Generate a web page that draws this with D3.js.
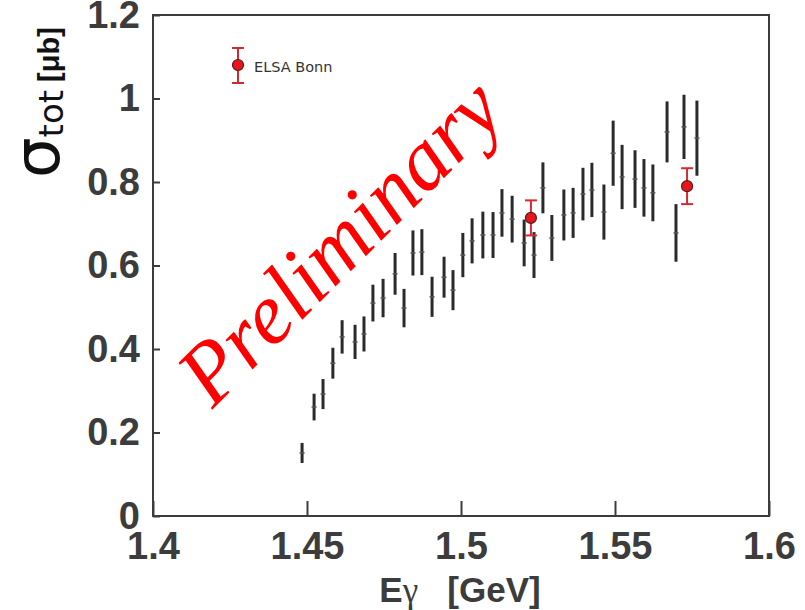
<!DOCTYPE html>
<html>
<head>
<meta charset="utf-8">
<script src="https://cdn.jsdelivr.net/npm/d3@7"></script>
<style>
  html, body { margin: 0; padding: 0; background: #fff; }
  svg { display: block; }
</style>
</head>
<body>
<svg id="chart" width="805" height="610"></svg>
<script>
// ---- data ----
const energies = [1.4484, 1.4523, 1.4552, 1.4584, 1.4614, 1.4656, 1.4685, 1.4714, 1.4747, 1.4786,
                  1.4815, 1.4844, 1.4873, 1.4906, 1.4945, 1.4974, 1.5006, 1.5036, 1.5071, 1.5104,
                  1.5133, 1.5166, 1.5205, 1.5237, 1.5266, 1.5295, 1.5334, 1.5364, 1.5396, 1.5425,
                  1.5464, 1.5494, 1.5523, 1.5565, 1.5594, 1.5623, 1.5669, 1.5698, 1.5724, 1.5766];
const xsec = [0.151, 0.261, 0.292, 0.366, 0.429, 0.417, 0.436, 0.510, 0.522, 0.580,
              0.498, 0.630, 0.632, 0.525, 0.572, 0.541, 0.625, 0.659, 0.673, 0.673,
              0.726, 0.711, 0.654, 0.625, 0.786, 0.666, 0.721, 0.726, 0.771, 0.781,
              0.728, 0.869, 0.812, 0.807, 0.786, 0.774, 0.920, 0.678, 0.932, 0.905];
const xsecErr = [0.024, 0.032, 0.036, 0.037, 0.040, 0.041, 0.042, 0.044, 0.046, 0.050,
                 0.046, 0.054, 0.055, 0.048, 0.049, 0.048, 0.053, 0.054, 0.056, 0.055,
                 0.057, 0.056, 0.056, 0.055, 0.061, 0.055, 0.061, 0.060, 0.063, 0.065,
                 0.066, 0.078, 0.077, 0.069, 0.069, 0.068, 0.073, 0.069, 0.077, 0.090];
const elsaE = [1.5227, 1.5734];
const elsaV = [0.714, 0.790];
const elsaErr = [0.042, 0.043];
const xTicks = [1.4, 1.45, 1.5, 1.55, 1.6];
const xTickLabels = ["1.4", "1.45", "1.5", "1.55", "1.6"];
const yTicks = [0, 0.2, 0.4, 0.6, 0.8, 1.0, 1.2];
const yTickLabels = ["0", "0.2", "0.4", "0.6", "0.8", "1", "1.2"];
const legendLabel = "ELSA Bonn";
const watermark = "Preliminary";

// ---- layout ----
const L = 153, R = 769, T = 15, B = 516;
const svg = d3.select("#chart");
const x = d3.scaleLinear().domain([1.4, 1.6]).range([L, R]);
const y = d3.scaleLinear().domain([0, 1.2]).range([B, T]);
const axisColor = "#3c3c3c";
const tickFont = "'Liberation Sans', Arial, sans-serif";

// frame
svg.append("rect").attr("x", L).attr("y", T).attr("width", R - L).attr("height", B - T)
  .attr("fill", "none").attr("stroke", axisColor).attr("stroke-width", 2);

// x axis
const gx = svg.append("g").attr("transform", `translate(0,${B})`)
  .call(d3.axisBottom(x).tickValues(xTicks).tickFormat((d, i) => xTickLabels[i])
        .tickSizeInner(-15).tickSizeOuter(0).tickPadding(16));
gx.select(".domain").remove();
gx.selectAll(".tick line").attr("stroke", axisColor).attr("stroke-width", 2);
gx.selectAll(".tick text").attr("fill", axisColor).style("font-family", tickFont)
  .style("font-weight", "bold").style("font-size", "38px");

// y axis
const gy = svg.append("g").attr("transform", `translate(${L},0)`)
  .call(d3.axisLeft(y).tickValues(yTicks).tickFormat((d, i) => yTickLabels[i])
        .tickSizeInner(-7).tickSizeOuter(0).tickPadding(13));
gy.select(".domain").remove();
gy.selectAll(".tick line").attr("stroke", axisColor).attr("stroke-width", 2);
gy.selectAll(".tick text").attr("fill", axisColor).style("font-family", tickFont)
  .style("font-weight", "bold").style("font-size", "38px");

// data error bars (black)
const pts = energies.map((e, i) => ({e, v: xsec[i], err: xsecErr[i]}));
const gData = svg.append("g");
gData.selectAll("line.bar").data(pts).join("line").attr("class", "bar")
  .attr("x1", d => x(d.e)).attr("x2", d => x(d.e))
  .attr("y1", d => y(d.v - d.err)).attr("y2", d => y(d.v + d.err))
  .attr("stroke", "#2a2a2a").attr("stroke-width", 3);
gData.selectAll("line.mid").data(pts).join("line").attr("class", "mid")
  .attr("x1", d => x(d.e) - 2.5).attr("x2", d => x(d.e) + 2.5)
  .attr("y1", d => y(d.v)).attr("y2", d => y(d.v))
  .attr("stroke", "#555").attr("stroke-width", 1.5);

// ELSA points
const red = "#d42a2f";
const elsa = elsaE.map((e, i) => ({e, v: elsaV[i], err: elsaErr[i]}));
function drawElsa(g, cx, cy, yLo, yHi) {
  g.append("line").attr("x1", cx).attr("x2", cx).attr("y1", yLo).attr("y2", yHi)
    .attr("stroke", red).attr("stroke-width", 2);
  [yLo, yHi].forEach(yy => g.append("line").attr("x1", cx - 6).attr("x2", cx + 6)
    .attr("y1", yy).attr("y2", yy).attr("stroke", red).attr("stroke-width", 2));
  g.append("circle").attr("cx", cx).attr("cy", cy).attr("r", 5.5)
    .attr("fill", "#e8161c").attr("stroke", "#5a1a1a").attr("stroke-width", 1.2);
}
const gElsa = svg.append("g");
elsa.forEach(d => drawElsa(gElsa, x(d.e), y(d.v), y(d.v - d.err), y(d.v + d.err)));

// legend
const gLeg = svg.append("g");
drawElsa(gLeg, 238, 65, 83, 48);
gLeg.append("text").attr("x", 254).attr("y", 72).text(legendLabel)
  .attr("fill", "#333").style("font-family", "'DejaVu Sans', sans-serif").style("font-size", "14.5px");

// x label
const xl = svg.append("text").attr("x", 460).attr("y", 602).attr("text-anchor", "middle")
  .attr("fill", axisColor).style("font-family", tickFont).style("font-weight", "bold").style("font-size", "35px");
xl.append("tspan").text("E");
xl.append("tspan").text("γ").style("font-family", "'Liberation Serif', serif").style("font-weight", "normal");
xl.append("tspan").text("\u00a0\u00a0\u00a0[GeV]");

// y label
const yl = svg.append("text").attr("transform", "translate(59,178) rotate(-90)")
  .attr("fill", "#111").style("font-family", "'DejaVu Sans', sans-serif");
yl.append("tspan").text("σ").style("font-size", "64px");
yl.append("tspan").text("tot").style("font-size", "34px").attr("dy", 4);
yl.append("tspan").text("\u00a0[μb]").style("font-size", "29px").style("font-weight", "bold")
  .style("font-family", tickFont).attr("dy", -4);

// watermark
svg.append("text").attr("transform", "translate(360,262) rotate(-45)")
  .attr("text-anchor", "middle").attr("fill", "#ff0000")
  .style("font-family", "'Liberation Serif', 'Times New Roman', serif")
  .style("font-style", "italic").style("font-size", "87px").text(watermark);
</script>
</body>
</html>
